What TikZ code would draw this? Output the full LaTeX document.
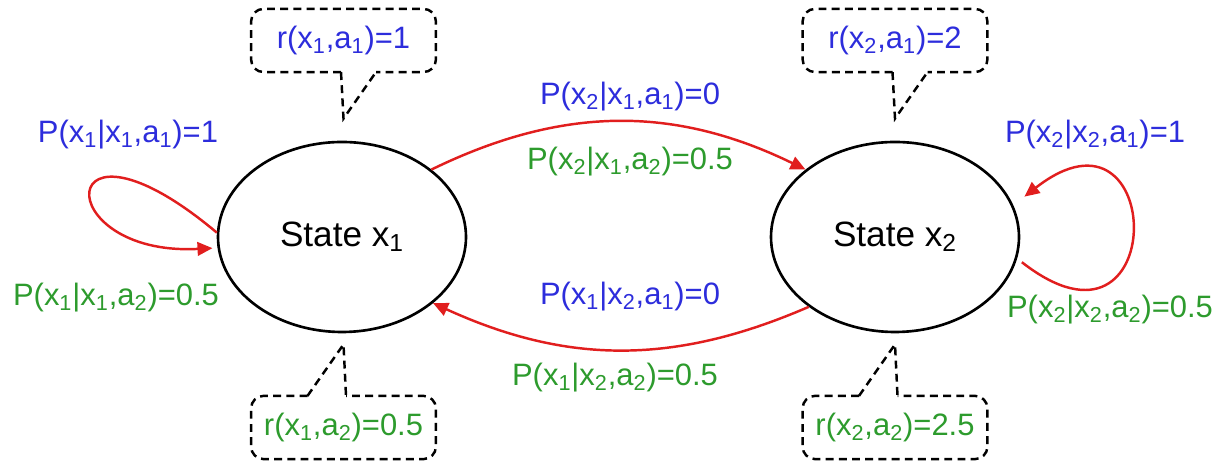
\documentclass[tikz,border=0pt]{standalone}
\usepackage{fontspec}
\setmainfont{Liberation Sans}
\usetikzlibrary{shapes.geometric,arrows.meta,calc}
\definecolor{blu}{RGB}{45,45,220}
\definecolor{grn}{RGB}{45,155,45}
\definecolor{arr}{RGB}{225,30,30}
\newcommand{\lo}[1]{\textsubscript{#1}}
\begin{document}
\begin{tikzpicture}[font=\fontsize{17.6}{20}\selectfont,
  state/.style={draw,ellipse,line width=1.5pt,minimum width=4.96cm,
    minimum height=3.8cm,inner sep=0pt,font=\fontsize{20}{24}\selectfont},
  box/.style={minimum width=3.68cm,minimum height=1.25cm,inner sep=0pt},
  say/.style={dash pattern=on 4.5pt off 3pt,line width=1.4pt},
  trans/.style={arr,line width=1.4pt,-{Triangle[length=3mm,width=2.7mm]}}]
  \useasboundingbox (0,0) rectangle (24.4,9.28);
  % the two states
  \node[state] (s1) at (6.84,4.54) {State x\lo1};
  \node[state] (s2) at (17.9,4.54) {State x\lo2};
  % rewards
  \node[box,text=blu] (r11) at (6.87,8.47) {r(x\lo1,a\lo1)=1};
  \node[box,text=blu] (r21) at (17.9,8.47) {r(x\lo2,a\lo1)=2};
  \node[box,text=grn] (r12) at (6.87,0.73) {r(x\lo1,a\lo2)=0.5};
  \node[box,text=grn] (r22) at (17.9,0.73) {r(x\lo2,a\lo2)=2.5};
  \foreach \n in {r11,r21} {
    \draw[say,rounded corners=7pt] ($(\n.south)+(-0.05,0)$) -- (\n.south west)
      -- (\n.north west) -- (\n.north east) -- (\n.south east) -- ($(\n.south)+(0.65,0)$);
    \draw[say] ($(\n.south)+(-0.05,0)$) -- ($(\n.south)+(0,-0.93)$) -- ($(\n.south)+(0.65,0)$);
  }
  \foreach \n in {r12,r22} {
    \draw[say,rounded corners=7pt] ($(\n.north)+(-0.72,0)$) -- (\n.north west)
      -- (\n.south west) -- (\n.south east) -- (\n.north east) -- ($(\n.north)+(0.05,0)$);
    \draw[say] ($(\n.north)+(-0.72,0)$) -- ($(\n.north)+(0,1.03)$) -- ($(\n.north)+(0.05,0)$);
  }
  % transitions
  \draw[trans] (s1.37) to[bend left=26] (s2.143);
  \draw[trans] (s2.219) to[bend left=24] (s1.324);
  \draw[trans,shorten >=0.1cm] (s1.178) .. controls +(140:4.3) and +(183:3.4) .. (s1.185);
  \draw[trans,shorten <=0.12cm,shorten >=0.28cm] (s2.-10) .. controls +(-38:3.9) and +(38:3.9) .. (s2.15);
  % probabilities
  \node[text=blu] (p211) at (12.6,7.34) {P(x\lo2|x\lo1,a\lo1)=0};
  \node[text=grn] (p212) at (12.6,6.04) {P(x\lo2|x\lo1,a\lo2)=0.5};
  \node[text=blu] (p121) at (12.6,3.34) {P(x\lo1|x\lo2,a\lo1)=0};
  \node[text=grn] (p122) at (12.3,1.72) {P(x\lo1|x\lo2,a\lo2)=0.5};
  \node[text=blu] (p111) at (2.56,6.58) {P(x\lo1|x\lo1,a\lo1)=1};
  \node[text=grn] (p112) at (2.32,3.32) {P(x\lo1|x\lo1,a\lo2)=0.5};
  \node[text=blu] (p221) at (21.9,6.58) {P(x\lo2|x\lo2,a\lo1)=1};
  \node[text=grn] (p222) at (22.2,3.08) {P(x\lo2|x\lo2,a\lo2)=0.5};
\end{tikzpicture}
\end{document}
